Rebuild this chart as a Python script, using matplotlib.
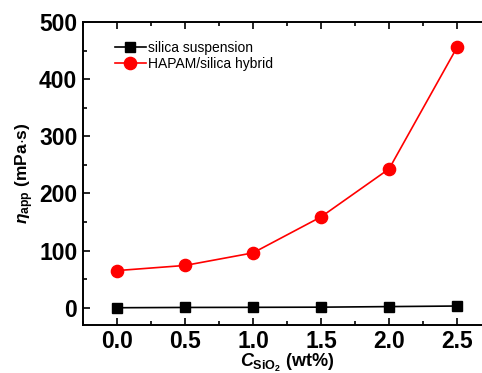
import matplotlib
matplotlib.use("Agg")
import matplotlib.pyplot as plt
from matplotlib.ticker import MultipleLocator

plt.rcParams['font.family'] = ['Liberation Sans', 'DejaVu Sans']
plt.rcParams['mathtext.fontset'] = 'custom'
plt.rcParams['mathtext.it'] = 'Liberation Sans:italic:bold'
plt.rcParams['mathtext.rm'] = 'Liberation Sans:bold'
plt.rcParams['mathtext.bf'] = 'Liberation Sans:bold'

# data
conc = [0.0, 0.5, 1.0, 1.5, 2.0, 2.5]
silica = [0, 0.5, 0.7, 1, 2, 3]
hybrid = [65, 74, 96, 159, 243, 456]

fig = plt.figure(figsize=(4.82, 3.73), dpi=100)
ax = fig.add_axes([0.172, 0.129, 0.847, 0.812])

ax.plot(conc, silica, '-s', color='black', lw=1.2, ms=7.5, label='silica suspension')
ax.plot(conc, hybrid, '-o', color='red', lw=1.2, ms=8.8, label='HAPAM/silica hybrid')

ax.set_xlim(-0.25, 2.75)
ax.set_ylim(-30, 500)
ax.xaxis.set_major_locator(MultipleLocator(0.5))
ax.xaxis.set_minor_locator(MultipleLocator(0.25))
ax.yaxis.set_major_locator(MultipleLocator(100))
ax.yaxis.set_minor_locator(MultipleLocator(50))
ax.tick_params(which='both', direction='in', top=True, right=True, width=1.2)
ax.tick_params(which='major', length=5, labelsize=16.5, pad=4)
ax.tick_params(which='minor', length=3)
for lab in ax.get_xticklabels() + ax.get_yticklabels():
    lab.set_fontweight('bold')
for sp in ax.spines.values():
    sp.set_linewidth(1.4)

ax.set_xlabel(r'$C_{\rm SiO_2}$ (wt%)', fontsize=13, fontweight='bold', labelpad=-1)
ax.set_ylabel(r'$\eta_{\rm app}$ (mPa$\cdot$s)', fontsize=12.5, fontweight='bold', labelpad=2)

ax.legend(loc='upper left', bbox_to_anchor=(0.055, 0.97), frameon=False, fontsize=10,
          handlelength=2.2, handletextpad=0.2, borderpad=0.2, labelspacing=0.15)

fig.savefig('out.png', dpi=100)
